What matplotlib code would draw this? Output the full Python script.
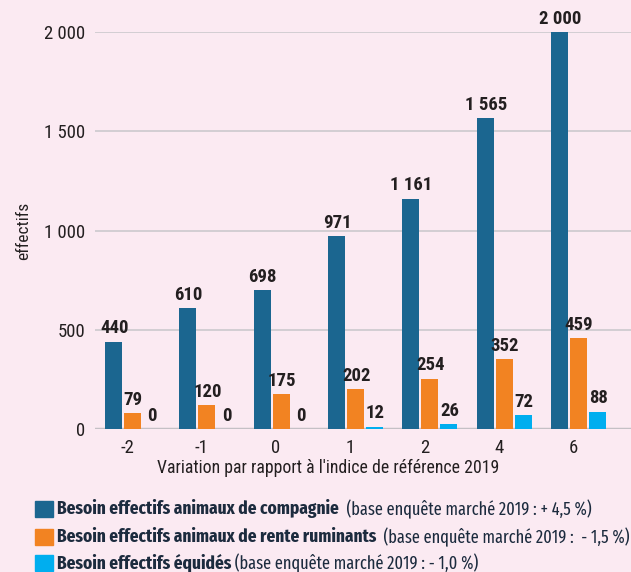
import matplotlib
matplotlib.use("Agg")
import numpy as np
import matplotlib.pyplot as plt
from matplotlib.patches import Rectangle

plt.rcParams['font.family'] = ['Roboto Condensed', 'DejaVu Sans']

categories = ['-2', '-1', '0', '1', '2', '4', '6']
compagnie = [440, 610, 698, 971, 1161, 1565, 2000]
ruminants = [79, 120, 175, 202, 254, 352, 459]
equides = [0, 0, 0, 12, 26, 72, 88]

series_names = [
    ('Besoin effectifs animaux de compagnie', '  (base enquête marché 2019 : + 4,5 %)'),
    ('Besoin effectifs animaux de rente ruminants', '  (base enquête marché 2019 :  - 1,5 %)'),
    ('Besoin effectifs équidés', ' (base enquête marché 2019 : - 1,0 %)'),
]
colors = ['#1B6690', '#F28322', '#00AEEF']
bg = '#FBEAF2'
ink = '#231F20'
legend_font = ['Fira Sans Extra Condensed', 'DejaVu Sans']

def fmt(v):
    return f'{v:,}'.replace(',', ' ')

fig = plt.figure(figsize=(6.31, 5.72), dpi=100, facecolor=bg)
ax = fig.add_axes([95 / 631, 143 / 572, (631 - 95) / 631, 397 / 572])
ax.set_facecolor(bg)

x = np.arange(len(categories))
step = 0.256
for i, (vals, c) in enumerate(zip([compagnie, ruminants, equides], colors)):
    pos = x + (i - 1) * step
    ax.bar(pos, vals, width=0.23, color=c, zorder=3)
    for p, v in zip(pos, vals):
        ax.annotate(fmt(v), (p, v), xytext=(0.5, 3), textcoords='offset points',
                    ha='center', va='bottom', fontsize=13.5, fontweight='bold',
                    color=ink, annotation_clip=False, zorder=4)

ax.set_xlim(-0.504, 6.707)
ax.set_ylim(0, 2000)
ax.set_yticks([0, 500, 1000, 1500, 2000])
ax.set_yticklabels([fmt(v) for v in [0, 500, 1000, 1500, 2000]])
ax.set_xticks(x - 0.07)
ax.set_xticklabels(categories)
ax.tick_params(axis='both', length=0, labelsize=13.5, colors=ink)
ax.tick_params(axis='x', pad=7)
ax.tick_params(axis='y', pad=7)
ax.grid(axis='y', color='#CFCBD0', linewidth=1.3, zorder=0)
ax.axhline(0, color='#C4C0C5', linewidth=2.5, zorder=2)
for s in ax.spines.values():
    s.set_visible(False)
ax.set_xlabel("Variation par rapport à l'indice de référence 2019", fontsize=12.8,
              color=ink)
ax.xaxis.set_label_coords(0.435, -0.075)
ax.set_ylabel('effectifs', fontsize=12.5, color=ink, labelpad=9)

# legend drawn by hand: bold name followed by the note in regular weight
renderer = fig.canvas.get_renderer()
ys = [509, 537, 563]
for (bold, note), c, yp in zip(series_names, colors, ys):
    yf = 1 - yp / 572
    fig.patches.append(Rectangle((35 / 631, yf - 8 / 572), 18 / 631, 16 / 572,
                                 transform=fig.transFigure, color=c, figure=fig))
    t = fig.text(57 / 631, yf, bold, fontsize=13.5, fontweight='bold',
                 family=legend_font, color='#1C2B3E', va='center', ha='left')
    bb = t.get_window_extent(renderer)
    fig.text(bb.x1 / fig.bbox.width, yf, note, fontsize=12.8, fontweight='normal',
             family=legend_font, color='#1C2B3E', va='center', ha='left')

fig.savefig('out.png', dpi=100, facecolor=bg)
